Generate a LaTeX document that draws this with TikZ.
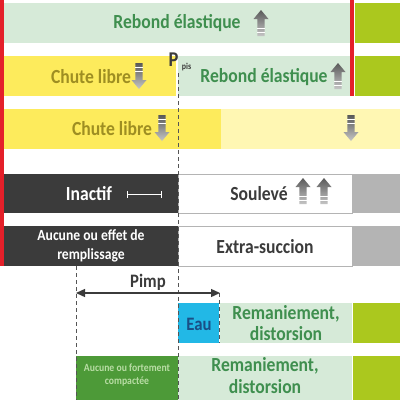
\documentclass[tikz,border=0pt]{standalone}
\usepackage{fontspec}
\setmainfont{Carlito}[FakeStretch=0.88]
\usetikzlibrary{arrows.meta}
\definecolor{lg}{HTML}{D6EAD8}
\definecolor{gtxt}{HTML}{3F8F4F}
\definecolor{yel}{HTML}{FDEB5C}
\definecolor{lyel}{HTML}{FFF7B3}
\definecolor{ytxt}{HTML}{9E8E22}
\definecolor{lime}{HTML}{ABC81E}
\definecolor{redb}{HTML}{E4202A}
\definecolor{dark}{HTML}{3B3B3B}
\definecolor{grayb}{HTML}{B4B4B4}
\definecolor{blueb}{HTML}{22B8E6}
\definecolor{etxt}{HTML}{1A4F86}
\definecolor{greenb}{HTML}{4D9A38}
\definecolor{gbtxt}{HTML}{B9DDA5}
\definecolor{dashc}{HTML}{555555}
\tikzset{
  bx/.style={anchor=north west, inner sep=0pt, outer sep=0pt, draw=none},
  lbl/.style={font=\fontsize{20}{21}\selectfont\bfseries, inner sep=0pt, align=center},
  dashln/.style={draw=dashc, line width=1pt, dash pattern=on 4pt off 3pt},
  uparr/.pic={
    \shade[top color=gray!70!black, bottom color=gray!45]
      (0,-13) -- (7.5,-4) -- (3.6,-4) -- (3.6,13) -- (-3.6,13) -- (-3.6,-4) -- (-7.5,-4) -- cycle;
    \draw[white, line width=0.8pt] (-3.6,5) -- (3.6,5) (-3.6,9) -- (3.6,9);
  }
}
\begin{document}
\begin{tikzpicture}[x=1pt,y=-1pt]
\useasboundingbox (0,0) rectangle (400,400);
% row 1
\node[bx, fill=lg, minimum width=346pt, minimum height=40pt] (b1) at (4,3) {};
\node[bx, fill=lime, minimum width=45pt, minimum height=40pt] (lm1) at (355,3) {};
% row 2
\node[bx, fill=yel, minimum width=172pt, minimum height=40pt] (b2a) at (4,56) {};
\node[bx, fill=lg, minimum width=172pt, minimum height=40pt] (b2b) at (178,56) {};
\node[bx, fill=lime, minimum width=45pt, minimum height=40pt] (lm2) at (355,56) {};
% row 3
\node[bx, fill=yel, minimum width=217pt, minimum height=40pt] (b3a) at (4,109) {};
\node[bx, fill=lyel, minimum width=179pt, minimum height=40pt] (b3b) at (221,109) {};
% row 4
\node[bx, fill=dark, minimum width=174pt, minimum height=39pt] (b4a) at (4,174) {};
\node[bx, fill=white, draw=grayb, line width=0.8pt, minimum width=174pt, minimum height=39pt] (b4b) at (178,174) {};
\node[bx, fill=grayb, minimum width=47pt, minimum height=39pt] (b4c) at (353,174) {};
% row 5
\node[bx, fill=dark, minimum width=174pt, minimum height=40pt] (b5a) at (4,226) {};
\node[bx, fill=white, draw=grayb, line width=0.8pt, minimum width=174pt, minimum height=40pt] (b5b) at (178,226) {};
\node[bx, fill=grayb, minimum width=47pt, minimum height=40pt] (b5c) at (353,226) {};
% row 6
\node[bx, fill=blueb, minimum width=41pt, minimum height=40pt] (b6a) at (178,303) {};
\node[bx, fill=lg, minimum width=132pt, minimum height=40pt] (b6b) at (220,303) {};
\node[bx, fill=lime, minimum width=47pt, minimum height=40pt] (b6c) at (353,303) {};
% row 7
\node[bx, fill=greenb, minimum width=102pt, minimum height=44pt] (b7a) at (76,356) {};
\node[bx, fill=lg, minimum width=174pt, minimum height=44pt] (b7b) at (178,356) {};
\node[bx, fill=lime, minimum width=47pt, minimum height=44pt] (b7c) at (353,356) {};
% red bars
\node[bx, fill=redb, minimum width=4pt, minimum height=266pt] (redl) at (0,0) {};
\node[bx, fill=redb, minimum width=4pt, minimum height=96pt] (redr) at (350,0) {};
% dashed lines
\coordinate (d1a) at (178,73); \coordinate (d1b) at (178,400);
\coordinate (d2a) at (76,266); \coordinate (d2b) at (76,400);
\coordinate (d3a) at (219.5,293); \coordinate (d3b) at (219.5,343);
\draw[dashln] (d1a) -- (d1b);
\draw[dashln] (d2a) -- (d2b);
\draw[dashln] (d3a) -- (d3b);
% Pimp arrow
\coordinate (pl) at (76,293); \coordinate (pr) at (220,293);
\draw[draw=dark, line width=1.3pt, {Triangle[length=9pt,width=8pt]}-{Triangle[length=9pt,width=8pt]}] (pl) -- (pr);
\node[lbl, text=dark, font=\fontsize{19}{21}\selectfont\bfseries] (pimp) at (148,282) {Pimp};
% texts
\node[lbl, text=gtxt] (t1) at (177,23) {Rebond élastique};
\node[lbl, text=ytxt] (t2a) at (91,77) {Chute libre};
\node[lbl, text=gtxt] (t2b) at (264,77) {Rebond élastique};
\node[lbl, text=dark, font=\fontsize{21}{22}\selectfont\bfseries] (pp) at (173.5,59.5) {P};
\node[lbl, text=dark, font=\fontsize{9}{10}\selectfont\bfseries] (ppis) at (186.5,67) {pis};
\node[lbl, text=ytxt] (t3) at (112,129) {Chute libre};
\node[lbl, text=white] (t4a) at (89,194) {Inactif};
\coordinate (ia) at (127,194); \coordinate (ib) at (161,194);
\draw[white, line width=0.9pt] (ia) -- (ib);
\draw[white, line width=0.9pt] ([yshift=-3.5pt]ia) -- ([yshift=3.5pt]ia);
\draw[white, line width=0.9pt] ([yshift=-3.5pt]ib) -- ([yshift=3.5pt]ib);
\node[lbl, text=dark] (t4b) at (259,194) {Soulevé};
\node[lbl, text=white, font=\fontsize{15.5}{18.5}\selectfont\bfseries] (t5a) at (91,246) {Aucune ou effet de\\remplissage};
\node[lbl, text=dark] (t5b) at (265,247) {Extra-succion};
\node[lbl, text=etxt, font=\fontsize{19}{21}\selectfont\bfseries] (eau) at (199,324) {Eau};
\node[lbl, text=gtxt, font=\fontsize{20}{21}\selectfont\bfseries] (t6) at (286,323) {Remaniement,\\distorsion};
\node[lbl, text=gbtxt, font=\fontsize{11}{13.5}\selectfont\bfseries] (t7a) at (127,375) {Aucune ou fortement\\compactée};
\node[lbl, text=gtxt, font=\fontsize{20}{22}\selectfont\bfseries] (t7b) at (265,376) {Remaniement,\\distorsion};
% arrow icons
\pic at (261,23) {uparr};
\pic at (338,76) {uparr};
\pic at (303,191) {uparr};
\pic at (324,191) {uparr};
\pic[yscale=-1] at (139,76) {uparr};
\pic[yscale=-1] at (162,128) {uparr};
\pic[yscale=-1] at (351,128) {uparr};
\end{tikzpicture}
\end{document}
